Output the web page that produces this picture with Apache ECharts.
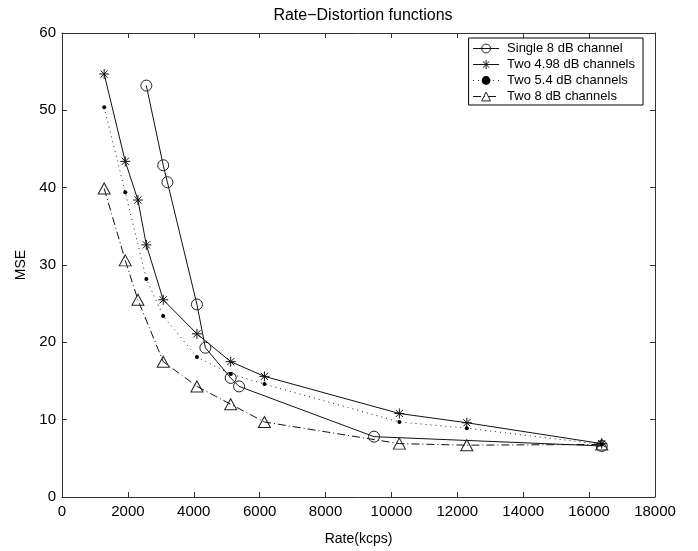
<!DOCTYPE html>
<html>
<head>
<meta charset="utf-8">
<script src="https://cdn.jsdelivr.net/npm/echarts@6/dist/echarts.min.js"></script>
<style>html,body{margin:0;padding:0;background:#fff}#c{width:698px;height:551px}</style>
</head>
<body>
<div id="c"></div>
<script>
var seriesNames = ['Single 8 dB channel', 'Two 4.98 dB channels', 'Two 5.4 dB channels', 'Two 8 dB channels'];
var singleRate = [2560, 3072, 3200, 4096, 4352, 5120, 5376, 9472, 16384];
var singleMSE  = [53.2, 42.9, 40.7, 24.9, 19.3, 15.4, 14.3, 7.8, 6.6];
var two498Rate = [1280, 1920, 2304, 2560, 3072, 4096, 5120, 6144, 10240, 12288, 16384];
var two498MSE  = [54.7, 43.4, 38.4, 32.6, 25.5, 21.1, 17.5, 15.6, 10.8, 9.6, 6.9];
var two54Rate  = [1280, 1920, 2560, 3072, 4096, 5120, 6144, 10240, 12288, 16384];
var two54MSE   = [50.4, 39.4, 28.2, 23.4, 18.1, 15.9, 14.6, 9.7, 8.9, 6.8];
var two8Rate   = [1280, 1920, 2304, 3072, 4096, 5120, 6144, 10240, 12288, 16384];
var two8MSE    = [39.9, 30.6, 25.5, 17.5, 14.3, 12.0, 9.7, 6.9, 6.7, 6.8];
var xTicks = [0, 2000, 4000, 6000, 8000, 10000, 12000, 14000, 16000, 18000];
var yTicks = [0, 10, 20, 30, 40, 50, 60];

function pairs(xs, ys) { return xs.map(function (x, i) { return [x, ys[i]]; }); }

var FONT = 'Liberation Sans';
var asterisk = 'path://M0 -5 L0 5 M-5 0 L5 0 M-3.6 -3.6 L3.6 3.6 M-3.6 3.6 L3.6 -3.6';
var ringPath = 'path://M0,-5 A5,5 0 1,1 0,5 A5,5 0 1,1 0,-5 Z';
var triPath = 'path://M0,-6 L6,4.4 L-6,4.4 Z';
var axisColor = '#333';

var chart = echarts.init(document.getElementById('c'), null, {renderer: 'canvas'});
var baseX = {
  type: 'value', min: xTicks[0], max: xTicks[xTicks.length - 1], interval: 2000,
  axisLine: {show: true, onZero: false, lineStyle: {color: axisColor, width: 1}},
  axisTick: {show: true, inside: true, length: 5, lineStyle: {color: axisColor}},
  splitLine: {show: false}
};
var baseY = {
  type: 'value', min: yTicks[0], max: yTicks[yTicks.length - 1], interval: 10,
  axisLine: {show: true, onZero: false, lineStyle: {color: axisColor, width: 1}},
  axisTick: {show: true, inside: true, length: 5, lineStyle: {color: axisColor}},
  splitLine: {show: false}
};
chart.setOption({
  animation: false,
  backgroundColor: '#fff',
  textStyle: {fontFamily: FONT, color: '#000'},
  title: {
    text: 'Rate\u2212Distortion functions', left: 358, top: 3, textAlign: 'center',
    textStyle: {fontFamily: FONT, fontSize: 16, fontWeight: 'normal', color: '#000'}
  },
  grid: {left: 62, right: 43, top: 33, bottom: 52, containLabel: false},
  legend: {
    orient: 'vertical', right: 55, top: 38, itemWidth: 26, itemHeight: 11, itemGap: 3,
    padding: [4, 8, 2, 4], borderColor: '#000', borderWidth: 1, backgroundColor: '#fff',
    lineStyle: {width: 1},
    itemStyle: {borderWidth: 1},
    textStyle: {fontFamily: FONT, fontSize: 13, color: '#000', padding: [0, 0, 0, 3]},
    data: seriesNames
  },
  xAxis: [
    Object.assign({}, baseX, {
      position: 'bottom', name: 'Rate(kcps)', nameLocation: 'middle', nameGap: 35,
      nameTextStyle: {fontFamily: FONT, fontSize: 14, color: '#000'},
      axisLabel: {show: true, fontFamily: FONT, fontSize: 15, color: '#000', margin: 7,
        formatter: function (v) { return String(v); }}
    }),
    Object.assign({}, baseX, {position: 'top', axisLabel: {show: false}})
  ],
  yAxis: [
    Object.assign({}, baseY, {
      position: 'left', name: 'MSE', nameLocation: 'middle', nameGap: 28, nameRotate: 90,
      nameTextStyle: {fontFamily: FONT, fontSize: 14, color: '#000'},
      axisLabel: {show: true, fontFamily: FONT, fontSize: 15, color: '#000', margin: 6}
    }),
    Object.assign({}, baseY, {position: 'right', axisLabel: {show: false}})
  ],
  series: [
    {
      name: seriesNames[0], type: 'line', data: pairs(singleRate, singleMSE),
      symbol: ringPath, symbolSize: 11, showAllSymbol: true,
      lineStyle: {color: '#111', width: 1, type: 'solid'},
      itemStyle: {color: 'rgba(0,0,0,0)', borderColor: '#222', borderWidth: 1}
    },
    {
      name: seriesNames[1], type: 'line', data: pairs(two498Rate, two498MSE),
      symbol: asterisk, symbolSize: 10, showAllSymbol: true,
      lineStyle: {color: '#111', width: 1, type: 'solid'},
      itemStyle: {color: 'rgba(0,0,0,0)', borderColor: '#111', borderWidth: 1}
    },
    {
      name: seriesNames[2], type: 'line', data: pairs(two54Rate, two54MSE),
      symbol: 'circle', symbolSize: 4, showAllSymbol: true,
      lineStyle: {color: '#222', width: 1, type: [1, 4]},
      itemStyle: {color: '#000', borderWidth: 0}
    },
    {
      name: seriesNames[3], type: 'line', data: pairs(two8Rate, two8MSE),
      symbol: triPath, symbolSize: [12, 11], showAllSymbol: true,
      lineStyle: {color: '#111', width: 1, type: [8, 3, 1, 3]},
      itemStyle: {color: 'rgba(0,0,0,0)', borderColor: '#222', borderWidth: 1}
    }
  ]
});
</script>
</body>
</html>
